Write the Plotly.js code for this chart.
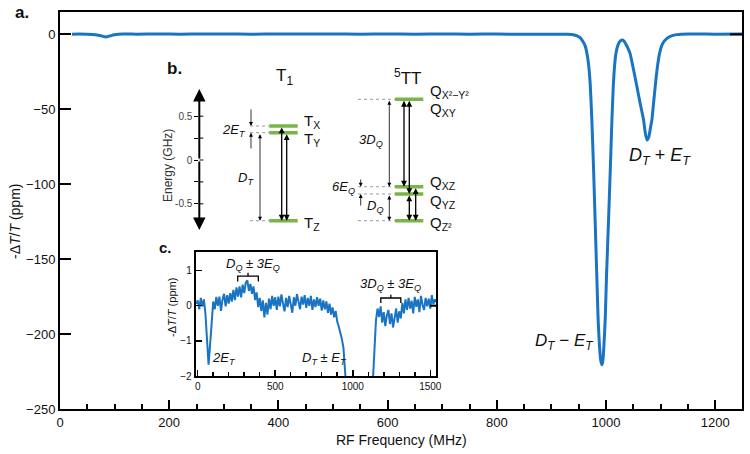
<!DOCTYPE html>
<html><head><meta charset="utf-8">
<script src="https://cdn.plot.ly/plotly-3.0.1.min.js"></script>
<style>html,body{margin:0;padding:0;background:#fff}#chart{width:750px;height:454px}</style>
</head><body><div id="chart"></div>
<script>
// ---- Panel a: main spectrum ----
const mainFreq = [22,35,50,65,75,84,92,100,115,140,180,220,260,300,350,400,450,500,550,600,650,700,750,800,850,900,930,940,947,952,958,962,965,968,971,974,977,980,983,985.5,988,990.5,992.5,994.5,996.5,998.5,1001,1004.6,1008,1010.8,1013,1015,1018,1022,1026,1029,1033,1037,1041,1044,1050,1056.6,1063,1068.7,1072,1075,1078,1081,1084,1087,1090,1094,1098,1104,1111.6,1120,1130,1150,1200,1249];
const mainSignal = [0.1,0.2,0.1,-0.3,-0.9,-1.8,-1.0,-0.3,0.2,0.1,0.3,0.1,0.2,0.3,0.1,0.3,0.2,0.3,0.1,0.2,0.1,0.2,0.1,0.2,0.0,0.1,0,-0.3,-1,-2,-5,-8,-12.7,-20,-33,-57,-88,-124,-160,-190,-208,-218,-220.5,-217,-205,-190,-160,-124,-88,-57,-37,-24,-13,-7,-4.5,-3.8,-4.5,-7,-10,-12.7,-23,-35,-47,-57,-66,-70.5,-69,-63,-57,-46,-35,-22,-12.7,-6,-2.7,-1,-0.2,0.2,0.1,0.2];
const mainXTicks = [0,200,400,600,800,1000,1200];
const mainYTicks = [-250,-200,-150,-100,-50,0];

// ---- Panel c: zoomed spectrum ----
const insetFreq = [-10,0,10,20,30,40,50,60,70,80,90,100,110,120,130,140,150,160,170,180,190,200,210,220,230,240,250,260,270,280,290,300,310,320,330,340,350,360,370,380,390,400,410,420,430,440,450,460,470,480,490,500,510,520,530,540,550,560,570,580,590,600,610,620,630,640,650,660,670,680,690,700,710,720,730,740,750,760,770,780,790,800,810,820,830,840,850,860,870,880,890,900,910,920,930,940,950,960,970,1000,1050,1100,1120,1130,1140,1150,1160,1170,1180,1190,1200,1210,1220,1230,1240,1250,1260,1270,1280,1290,1300,1310,1320,1330,1340,1350,1360,1370,1380,1390,1400,1410,1420,1430,1440,1450,1460,1470,1480,1490,1500,1510,1520,1530,1540];
const insetSignal = [0.05,0.15,-0.1,0.22,-0.02,0.18,-0.25,-0.9,-1.68,-1.1,-0.3,0.12,-0.1,0.25,0.0,0.26,-0.15,0.18,0.34,-0.02,0.3,0.06,0.36,0.12,0.45,0.16,0.52,0.26,0.55,0.24,0.6,0.36,0.66,0.72,0.42,0.62,0.34,0.55,0.16,0.38,-0.04,0.22,-0.15,0.15,-0.33,0.08,-0.25,0.2,-0.1,0.28,0.0,0.24,-0.12,0.26,-0.02,0.32,0.06,-0.16,0.22,-0.04,0.28,0.04,-0.2,0.24,0.0,0.33,0.06,-0.1,0.26,0.03,0.3,-0.06,0.22,0.0,0.28,-0.12,0.18,-0.04,0.24,0.0,0.2,-0.14,0.15,-0.1,0.12,-0.2,0.06,-0.25,-0.05,-0.33,-0.15,-0.45,-0.6,-0.75,-0.95,-1.2,-1.6,-2.2,-3,-5,-5,-5,-3,-2.2,-1.2,-0.4,-0.08,-0.32,-0.02,-0.48,-0.18,-0.58,-0.28,-0.12,-0.52,-0.22,-0.62,-0.28,-0.08,-0.48,-0.16,-0.36,0.08,-0.22,0.18,-0.12,0.22,-0.08,0.14,-0.22,0.25,-0.03,0.18,-0.18,0.28,0.03,-0.12,0.22,-0.02,0.2,-0.08,0.3,0.04,0.18,0.1];
const insetXTicks = [0,500,1000,1500];
const insetYTicks = [-2,-1,0,1];

// ---- Panel b: energy levels (GHz) ----
const tripletLevels = [0.388, 0.312, -0.693];          // T_X, T_Y, T_Z
const quintetLevels = [0.693, -0.305, -0.388, -0.693];  // Q_X2-Y2/Q_XY, Q_XZ, Q_YZ, Q_Z2
const energyTicks = [-0.5,-0.25,0,0.25,0.5];
const energyTickText = ['-0.5','','0','','0.5'];

const BLUE = '#1a74c4';
const GREEN = '#79b546';
const FONT = 'Arial, "Liberation Sans", Helvetica, sans-serif';

// layout geometry helpers (pixel -> paper), plot area: left 60, right 742, top 12, bottom 409
const L=60, R=742, T=12, B=409;
const px = v => (v-L)/(R-L);
const py = v => (B-v)/(B-T);
// diagram x units are pixels from the energy axis (x3 starts at px 199.3)
const dx = v => v-199.3;

const traces = [
  {x: mainFreq, y: mainSignal, type:'scatter', mode:'lines', line:{color:BLUE, width:3, shape:'spline', smoothing:0.5}, xaxis:'x', yaxis:'y', hoverinfo:'skip'},
  {x: insetFreq, y: insetSignal, type:'scatter', mode:'lines', line:{color:BLUE, width:2}, xaxis:'x2', yaxis:'y2', hoverinfo:'skip'},
  {x:[0], y:[0], type:'scatter', mode:'markers', marker:{opacity:0}, xaxis:'x3', yaxis:'y3', hoverinfo:'skip'}
];

const shapes = [];
const annotations = [];

// right-side zero ticks
shapes.push({type:'line', xref:'paper', yref:'y', x0:px(730), x1:1, y0:0, y1:0, line:{color:'#000', width:2}});
shapes.push({type:'line', xref:'paper', yref:'y2', x0:px(430), x1:px(436), y0:0, y1:0, line:{color:'#000', width:2}});

// energy level bars and dotted guides
const tBar=[dx(269.3), dx(297.7)], qBar=[dx(395), dx(423.3)];
tripletLevels.forEach(e=>{
  shapes.push({type:'line', xref:'x3', yref:'y3', x0:dx(250), x1:tBar[0], y0:e, y1:e, line:{color:'#9a9a9a', width:1, dash:'dot'}});
  shapes.push({type:'line', xref:'x3', yref:'y3', x0:tBar[0], x1:tBar[1], y0:e, y1:e, line:{color:GREEN, width:3.5}});
});
quintetLevels.forEach(e=>{
  shapes.push({type:'line', xref:'x3', yref:'y3', x0:dx(358), x1:qBar[0], y0:e, y1:e, line:{color:'#9a9a9a', width:1, dash:'dot'}});
  shapes.push({type:'line', xref:'x3', yref:'y3', x0:qBar[0], x1:qBar[1], y0:e, y1:e, line:{color:GREEN, width:3.5}});
});
// inner half of crossing ticks on energy axis
energyTicks.forEach(e=>{
  shapes.push({type:'line', xref:'x3', yref:'y3', x0:0, x1:4, y0:e, y1:e, line:{color:'#000', width:1}});
});

// brackets in panel c
function bracket(f0,f1,yb,ye,ym){
  shapes.push({type:'path', xref:'x2', yref:'y2', path:`M${f0},${ye} L${f0},${yb} L${f1},${yb} L${f1},${ye}`, line:{color:'#000', width:1.3}});
  const fm=(f0+f1)/2;
  shapes.push({type:'line', xref:'x2', yref:'y2', x0:fm, x1:fm, y0:yb, y1:ym, line:{color:'#000', width:1.3}});
}
bracket(258,391,0.84,0.69,0.94);
bracket(1181,1310,0.22,0.08,0.31);

// arrows
function arrow(x, yHead, yTail, opts){
  const o = Object.assign({width:1, size:1, both:false, head:2}, opts||{});
  annotations.push({xref:'x3', yref:'y3', axref:'x3', ayref:'y3', x:x, y:yHead, ax:x, ay:yTail, text:'', showarrow:true,
    arrowhead:o.head, startarrowhead:o.head, arrowsize:o.size, startarrowsize:o.size, arrowwidth:o.width, arrowcolor:'#000',
    arrowside: o.both ? 'end+start' : 'end', standoff:0, startstandoff:0});
}
// energy axis arrows
arrow(0, 0.81, 0, {width:2, size:1.25});
arrow(0, -0.80, 0, {width:2, size:1.25});
// T1 transitions
arrow(dx(281.7), tripletLevels[2], tripletLevels[0], {width:1.3, size:0.9, both:true});
arrow(dx(286.7), tripletLevels[2], tripletLevels[1], {width:1.3, size:0.9, both:true});
arrow(dx(260), tripletLevels[2], tripletLevels[1], {width:0.8, size:1, both:true});
arrow(dx(251), tripletLevels[0], 0.594, {width:0.8, size:1});
arrow(dx(251), tripletLevels[1], 0.114, {width:0.8, size:1});
// 5TT transitions
arrow(dx(404), quintetLevels[1], quintetLevels[0], {width:1.3, size:0.9, both:true});
arrow(dx(409.3), quintetLevels[2], quintetLevels[0], {width:1.3, size:0.9, both:true});
arrow(dx(409.3), quintetLevels[3], quintetLevels[2], {width:1.3, size:0.9, both:true});
arrow(dx(415.7), quintetLevels[3], quintetLevels[1], {width:1.3, size:0.9, both:true});
arrow(dx(389.3), quintetLevels[1], quintetLevels[0], {width:0.8, size:1, both:true});
arrow(dx(389.3), quintetLevels[3], quintetLevels[2], {width:0.8, size:1, both:true});
arrow(dx(360.7), quintetLevels[1], -0.205, {width:0.8, size:1});
arrow(dx(360.7), quintetLevels[2], -0.537, {width:0.8, size:1});

// text helper in pixel coordinates (paper)
function txt(text, x, y, o){
  o=o||{};
  annotations.push({xref:'paper', yref:'paper', x:px(x), y:py(y), text:text, showarrow:false,
    xanchor:o.xa||'center', yanchor:o.ya||'middle', textangle:o.angle||0,
    font:{family:FONT, size:o.size||14, color:o.color||'#111'}});
}
const it = s => '<i>'+s+'</i>';
txt('<b>a.</b>', 22, 12, {size:17});
txt('-Δ'+it('T')+'/'+it('T')+' (ppm)', 15, 222, {size:14, angle:-90});
txt('RF Frequency (MHz)', 401, 440, {size:14});
txt(it('D<sub>T</sub>')+' + '+it('E<sub>T</sub>'), 627, 156, {xa:'left', size:18});
txt(it('D<sub>T</sub>')+' − '+it('E<sub>T</sub>'), 533, 342, {xa:'left', size:17});

// panel b texts
txt('<b>b.</b>', 174, 68, {size:17});
txt('T<sub>1</sub>', 284, 77, {size:17});
txt('<sup>5</sup>TT', 407, 77, {size:17});
txt('Energy (GHz)', 168, 166, {size:12, angle:-90, color:'#333'});
txt('T<sub>X</sub>', 302, 121, {xa:'left', size:15});
txt('T<sub>Y</sub>', 302, 139, {xa:'left', size:15});
txt('T<sub>Z</sub>', 302, 223, {xa:'left', size:15});
txt(it('2E<sub>T</sub>'), 248, 130, {xa:'right', size:13});
txt(it('D<sub>T</sub>'), 256, 178, {xa:'right', size:13});
txt('Q<sub>X²−Y²</sub>', 428, 92, {xa:'left', size:15});
txt('Q<sub>XY</sub>', 428, 109, {xa:'left', size:15});
txt('Q<sub>XZ</sub>', 428, 182, {xa:'left', size:15});
txt('Q<sub>YZ</sub>', 428, 201, {xa:'left', size:15});
txt('Q<sub>Z²</sub>', 428, 223, {xa:'left', size:15});
txt(it('3D<sub>Q</sub>'), 385, 141, {xa:'right', size:13});
txt(it('6E<sub>Q</sub>'), 357, 187, {xa:'right', size:13});
txt(it('D<sub>Q</sub>'), 385, 207, {xa:'right', size:13});

// panel c texts
txt('<b>c.</b>', 165, 247, {size:15});
txt('-Δ'+it('T')+'/'+it('T')+' (ppm)', 172, 308, {size:11, angle:-90});
txt(it('D<sub>Q</sub>')+' ± '+it('3E<sub>Q</sub>'), 253, 264, {size:13});
txt(it('3D<sub>Q</sub>')+' ± '+it('3E<sub>Q</sub>'), 390, 284, {size:13});
txt(it('2E<sub>T</sub>'), 210, 358, {xa:'left', size:13});
txt(it('D<sub>T</sub>')+' ± '+it('E<sub>T</sub>'), 324, 358, {size:13});

const layout = {
  width:750, height:454,
  margin:{l:L, r:750-R, t:T, b:454-B, pad:0},
  paper_bgcolor:'#fff', plot_bgcolor:'#fff',
  showlegend:false,
  font:{family:FONT, color:'#111'},
  xaxis:{domain:[0,1], range:[0,1249], tickvals:mainXTicks, ticks:'inside', ticklen:9, tickwidth:2, tickcolor:'#000',
    minor:{dtick:50, tick0:0, ticks:'inside', ticklen:5, tickwidth:2, tickcolor:'#000'},
    showline:true, linewidth:2, linecolor:'#000', mirror:true, showgrid:false, zeroline:false,
    tickfont:{size:13, family:FONT, color:'#111'}},
  yaxis:{domain:[0,1], range:[-250,14.9], tickvals:mainYTicks, ticks:'inside', ticklen:11, tickwidth:2, tickcolor:'#000',
    showline:true, linewidth:2, linecolor:'#000', mirror:true, showgrid:false, zeroline:false,
    tickfont:{size:13, family:FONT, color:'#111'}},
  xaxis2:{domain:[px(195.7), px(436)], anchor:'y2', range:[-13,1537], tickvals:insetXTicks, ticks:'inside', ticklen:6, tickwidth:1.5, tickcolor:'#000',
    minor:{dtick:100, tick0:0, ticks:'inside', ticklen:4, tickwidth:1.5, tickcolor:'#000'},
    showline:true, linewidth:2, linecolor:'#000', mirror:true, showgrid:false, zeroline:false,
    tickfont:{size:10, family:FONT, color:'#111'}},
  yaxis2:{domain:[py(376), py(252.3)], anchor:'x2', range:[-2,1.52], tickvals:insetYTicks, ticks:'inside', ticklen:6, tickwidth:1.5, tickcolor:'#000',
    showline:true, linewidth:2, linecolor:'#000', mirror:true, showgrid:false, zeroline:false,
    tickfont:{size:10, family:FONT, color:'#111'}},
  xaxis3:{domain:[px(199.3), px(460)], anchor:'y3', range:[0,260.7], visible:false, fixedrange:true},
  yaxis3:{domain:[py(232), py(86)], anchor:'x3', range:[-0.8219,0.8447], tickvals:energyTicks, ticktext:energyTickText,
    ticks:'outside', ticklen:4, tickwidth:1, tickcolor:'#000', showline:false, showgrid:false, zeroline:false,
    tickfont:{size:10, family:FONT, color:'#444'}},
  shapes:shapes,
  annotations:annotations
};

Plotly.newPlot('chart', traces, layout, {displayModeBar:false, staticPlot:true});
</script></body></html>
